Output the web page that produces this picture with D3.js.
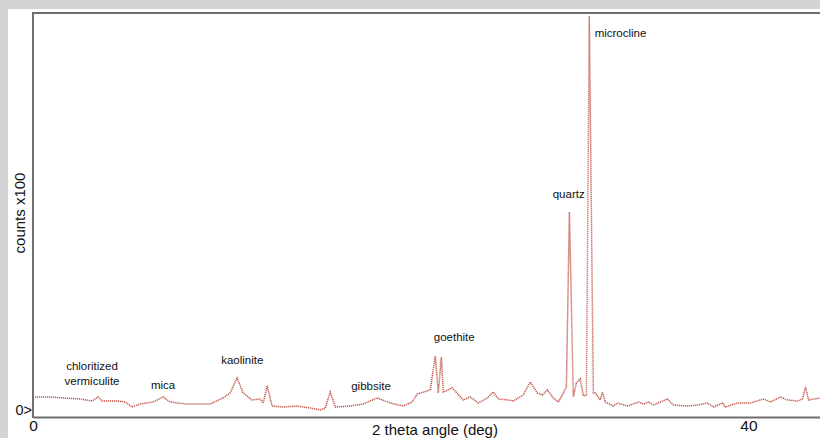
<!DOCTYPE html>
<html>
<head>
<meta charset="utf-8">
<script src="https://cdn.jsdelivr.net/npm/d3@7"></script>
<style>
  body { margin: 0; background: #d4d4d4; }
  text { font-family: "Liberation Sans", Arial, sans-serif; }
</style>
</head>
<body>
<div id="viz"></div>
<script>
// 2 theta angle (deg) readings of the trace
var theta = [0.11, 0.95, 1.68, 2.63, 3.30, 3.64, 3.86, 4.70, 5.15, 5.54, 5.99, 6.71, 7.27, 7.66, 8.62, 9.90,
  10.63, 11.02, 11.41, 11.75, 12.25, 12.70, 12.87, 13.09, 13.37, 13.99, 14.77, 15.50, 16.06, 16.34, 16.62, 16.90,
  17.73, 18.46, 19.24, 19.97, 20.70, 21.20, 21.48, 22.21, 22.49, 22.66, 22.83, 22.94, 23.44, 24.06, 24.45, 24.90,
  25.40, 25.73, 26.01, 26.57, 26.85, 27.41, 27.80, 28.20, 28.48, 28.76, 29.09, 29.37, 29.65, 29.82, 29.99, 30.21,
  30.38, 30.60, 30.77, 30.94, 31.10, 31.33, 31.44, 31.72, 31.83, 32.00, 32.45, 32.67, 33.23, 33.85, 34.13, 34.41,
  34.69, 35.47, 35.80, 36.59, 37.15, 37.71, 38.04, 38.55, 38.71, 39.38, 40.11, 40.84, 41.23, 41.79, 42.18, 42.74,
  43.02, 43.19, 43.36, 44.03];

// counts x100
var counts = [1.89, 1.89, 1.79, 1.69, 1.49, 1.89, 1.49, 1.49, 1.39, 0.89, 1.19, 1.39, 1.89, 1.39, 1.19, 1.19,
  1.79, 2.28, 3.77, 2.28, 1.59, 1.69, 1.29, 2.98, 0.99, 0.89, 0.99, 0.79, 0.60, 0.79, 2.38, 0.89,
  0.99, 1.19, 1.79, 1.29, 0.99, 1.39, 2.18, 2.58, 5.96, 2.28, 5.86, 2.38, 2.78, 1.59, 1.89, 1.29,
  1.79, 2.38, 1.69, 1.59, 1.49, 2.08, 3.37, 2.28, 2.08, 2.58, 1.79, 1.39, 2.28, 2.88, 20.25, 1.89,
  3.28, 3.67, 1.99, 2.08, 39.70, 2.28, 2.28, 1.59, 2.38, 1.39, 0.99, 1.29, 0.99, 1.39, 1.19, 1.39,
  1.09, 1.69, 1.09, 0.99, 1.09, 1.29, 0.89, 1.29, 0.89, 1.29, 1.29, 1.69, 1.39, 1.89, 1.59, 1.49,
  1.69, 2.88, 1.59, 1.79];

// mineral names and where they sit (theta, counts)
var minerals = ["chloritized|vermiculite", "mica", "kaolinite", "gibbsite", "goethite", "quartz", "microcline"];
var mineralTheta = [3.30, 7.27, 11.70, 18.90, 23.55, 29.95, 31.40];
var mineralCounts = [4.55, 2.68, 5.16, 2.58, 7.45, 21.6, 37.65];
var mineralAnchor = ["middle", "middle", "middle", "middle", "middle", "middle", "start"];

var xTicks = [0, 40];

var width = 820;
var height = 438;

var svg = d3.select("#viz")
  .append("svg")
  .attr("width", width)
  .attr("height", height)
  .style("display", "block");

// gray surround + white panel
svg.append("rect").attr("width", width).attr("height", height).attr("fill", "#d4d4d4");
svg.append("rect").attr("x", 8).attr("y", 9).attr("width", width - 8).attr("height", height - 9).attr("fill", "#fff");

var x = d3.scaleLinear().domain([0, 44]).range([33, 820]);
var y = d3.scaleLinear().domain([0, 40]).range([416, 13]);

// frame lines
svg.append("line").attr("x1", 33).attr("x2", 820).attr("y1", 13).attr("y2", 13)
  .attr("stroke", "#6f6f6f").attr("stroke-width", 2);
svg.append("line").attr("x1", 33).attr("x2", 33).attr("y1", 12).attr("y2", 418)
  .attr("stroke", "#6f6f6f").attr("stroke-width", 2);

// x axis
var xAxis = svg.append("g")
  .attr("transform", "translate(0,417)")
  .call(d3.axisBottom(x).tickValues(xTicks).tickSize(0).tickPadding(3).tickFormat(d3.format("d")));
xAxis.select(".domain").attr("stroke", "#6f6f6f").attr("stroke-width", 2);
xAxis.selectAll("text").attr("font-size", "15.5px").attr("fill", "#111")
  .attr("font-family", "Liberation Sans, Arial, sans-serif");

// "0>" mark at the left
svg.append("text")
  .attr("x", 32).attr("y", 415)
  .attr("text-anchor", "end")
  .attr("font-size", "14.5px").attr("fill", "#111")
  .text("0>");

// axis titles
svg.append("text")
  .attr("x", 435).attr("y", 435)
  .attr("text-anchor", "middle")
  .attr("font-size", "15px").attr("fill", "#111")
  .text("2 theta angle (deg)");

svg.append("text")
  .attr("transform", "translate(25,213) rotate(-90)")
  .attr("text-anchor", "middle")
  .attr("font-size", "15px").attr("fill", "#111")
  .text("counts x100");

// the trace
var line = d3.line()
  .x(function(d, i) { return x(theta[i]); })
  .y(function(d) { return y(d); });

svg.append("path")
  .datum(counts)
  .attr("d", line)
  .attr("fill", "none")
  .attr("stroke", "#c0544a")
  .attr("stroke-width", 1.5)
  .attr("stroke-dasharray", "1.2,0.8");

// mineral labels
minerals.forEach(function(m, i) {
  var lines = m.split("|");
  var t = svg.append("text")
    .attr("x", x(mineralTheta[i]))
    .attr("y", y(mineralCounts[i]))
    .attr("text-anchor", mineralAnchor[i])
    .attr("font-size", "11.5px")
    .attr("fill", "#111");
  lines.forEach(function(l, j) {
    t.append("tspan")
      .attr("x", x(mineralTheta[i]))
      .attr("dy", j == 0 ? 0 : 15)
      .text(l);
  });
});
</script>
</body>
</html>
